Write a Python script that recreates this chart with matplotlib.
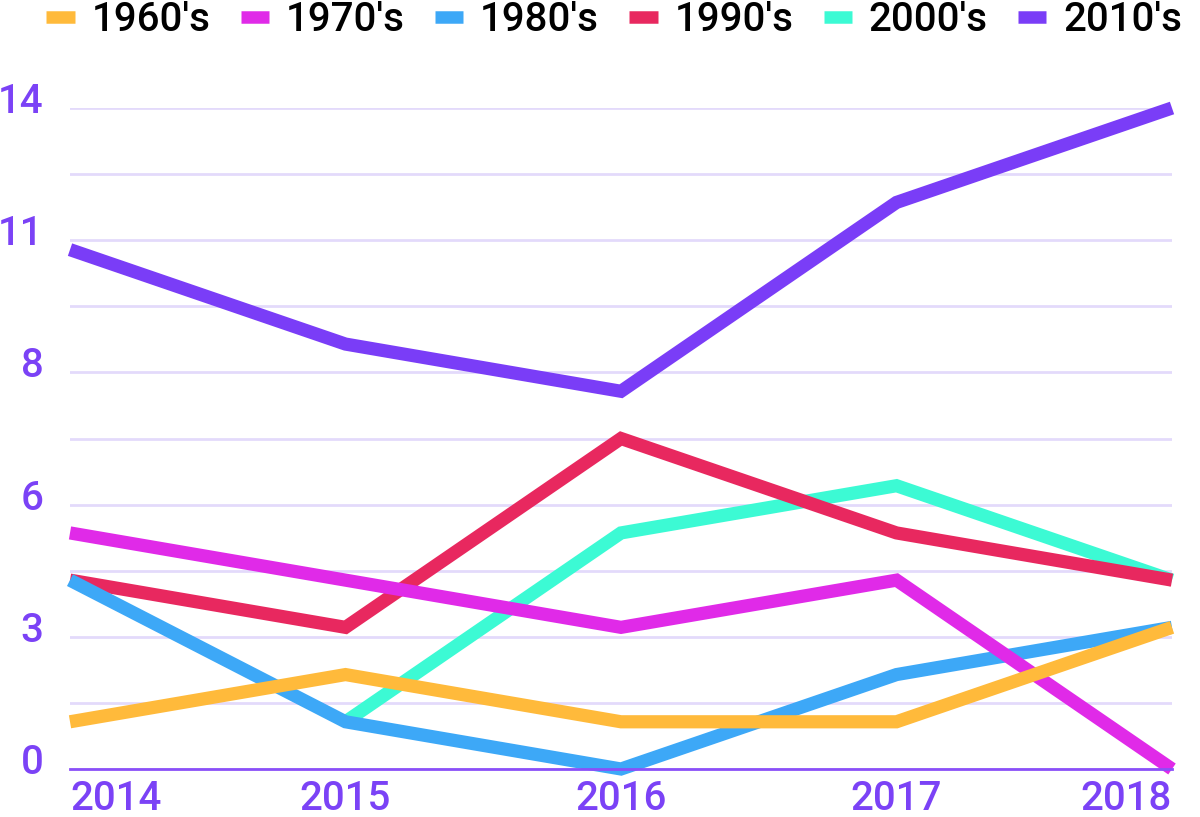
import numpy as np
import matplotlib.pyplot as plt
from matplotlib.lines import Line2D
from matplotlib.ticker import MultipleLocator, FixedLocator
import matplotlib.transforms as mtransforms

plt.rcParams['font.family'] = ['Roboto', 'DejaVu Sans']

years = [2014, 2015, 2016, 2017, 2018]
decades = ["1960's", "1970's", "1980's", "1990's", "2000's", "2010's"]
counts_1960s = [1, 2, 1, 1, 3]
counts_1970s = [5, 4, 3, 4, 0]
counts_1980s = [4, 1, 0, 2, 3]
counts_1990s = [4, 3, 7, 5, 4]
counts_2000s = [np.nan, 1, 5, 6, 4]
counts_2010s = [11, 9, 8, 12, 14]
series = [counts_1960s, counts_1970s, counts_1980s, counts_1990s, counts_2000s, counts_2010s]
colors = ['#FFBA3B', '#E02AE8', '#3DA8F7', '#E8285F', '#3CFAD4', '#7A3DF7']

y_ticks = np.arange(0, 14.01, 2.8)
y_labels = ['0', '3', '6', '8', '11', '14']

purple = '#7B42F6'

fig = plt.figure(figsize=(12, 8.17), dpi=100)
ax = fig.add_axes([70/1200, 1 - 769/817, (1172 - 70)/1200, (769 - 108)/817])

# draw later decades first so the older ones sit on top
for vals, col, name in reversed(list(zip(series, colors, decades))):
    ax.plot(years, vals, color=col, lw=9.5, solid_capstyle='butt',
            solid_joinstyle='miter', clip_on=False, label=name)

ax.set_xlim(2014, 2018)
ax.set_ylim(0, 14)

ax.yaxis.set_major_locator(FixedLocator(y_ticks))
ax.set_yticklabels(y_labels)
ax.yaxis.set_minor_locator(MultipleLocator(1.4))
ax.grid(axis='y', which='both', color='#E3DAFB', lw=2)
ax.set_axisbelow(True)

ax.set_xticks(years)
ax.set_xticklabels([str(y) for y in years])

for s in ['top', 'right', 'left']:
    ax.spines[s].set_visible(False)
ax.spines['bottom'].set_color('#8A4FF8')
ax.spines['bottom'].set_linewidth(2)
ax.spines['bottom'].set_zorder(5)

ax.tick_params(axis='both', which='both', length=0, labelsize=29, labelcolor=purple)
ax.tick_params(axis='y', pad=19)
ax.tick_params(axis='x', pad=8)
for lab in ax.get_xticklabels() + ax.get_yticklabels():
    lab.set_fontweight('medium')

# raise y labels a bit above their gridline
offset = mtransforms.ScaledTranslation(0, 10/100, fig.dpi_scale_trans)
for lab in ax.get_yticklabels():
    lab.set_transform(lab.get_transform() + offset)

xl = ax.get_xticklabels()
xl[0].set_ha('left')
xl[-1].set_ha('right')

handles = [Line2D([], [], color=c, lw=9, solid_capstyle='butt') for c in colors]
fig.legend(handles, decades, loc='center', bbox_to_anchor=(0.512, 0.976), ncol=6,
           frameon=False, prop={'size': 29, 'weight': 'medium'}, handlelength=0.7,
           handletextpad=0.42, columnspacing=0.75, borderpad=0, borderaxespad=0)

fig.savefig('out.png', dpi=100)
